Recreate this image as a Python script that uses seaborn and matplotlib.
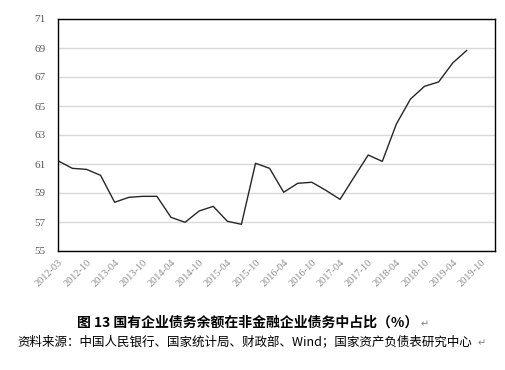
import matplotlib
matplotlib.use("Agg")
import matplotlib.pyplot as plt
import seaborn as sns
import pandas as pd

# quarterly share of SOE debt in non-financial corporate debt (%)
share = [61.21, 60.70, 60.63, 60.22, 58.36, 58.70, 58.77, 58.77,
         57.32, 56.98, 57.76, 58.08, 57.05, 56.84, 61.05, 60.70,
         59.05, 59.67, 59.74, 59.18, 58.56, 60.10, 61.62, 61.18,
         63.76, 65.48, 66.36, 66.66, 67.97, 68.84]
tick_labels = ["2012-03", "2012-10", "2013-04", "2013-10", "2014-04", "2014-10",
               "2015-04", "2015-10", "2016-04", "2016-10", "2017-04", "2017-10",
               "2018-04", "2018-10", "2019-04", "2019-10"]
y_ticks = [55, 57, 59, 61, 63, 65, 67, 69, 71]

df = pd.DataFrame({"idx": range(len(share)), "share": share})

sns.set_theme(style="white")
plt.rcParams["font.family"] = ["Liberation Serif", "DejaVu Sans"]

fig = plt.figure(figsize=(5.05, 3.70), dpi=100)
ax = fig.add_axes([58.3 / 505, 1 - 251 / 370, (495 - 58.3) / 505, (251 - 19) / 370])

sns.lineplot(data=df, x="idx", y="share", ax=ax, color="#262626", linewidth=1.0)

ax.set_xlim(0, 31)
ax.set_ylim(55, 71)
ax.set_yticks(y_ticks)
ax.set_yticklabels([str(v) for v in y_ticks], fontsize=8, color="#595959")
ax.set_xticks(range(0, 31, 2))
ax.set_xticklabels(tick_labels, rotation=45, ha="right", rotation_mode="anchor",
                   fontsize=7.5, color="#8c8c8c")
ax.tick_params(axis="x", direction="in", length=4, width=0.8, color="black", pad=5)
ax.tick_params(axis="y", length=0, pad=9)
ax.set_xlabel("")
ax.set_ylabel("")
ax.grid(axis="y", color="#d9d9d9", linewidth=1.0)
ax.set_axisbelow(True)
for s in ax.spines.values():
    s.set_color("black")
    s.set_linewidth(1.0)

cjk = ["Noto Sans CJK SC", "DejaVu Sans"]
fig.text(248 / 505, 1 - 323 / 370, "图 13 国有企业债务余额在非金融企业债务中占比（%）",
         ha="center", va="center", fontsize=10, fontweight="bold", family=cjk, color="black")
fig.text(421 / 505, 1 - 324 / 370, "↵", ha="left", va="center", fontsize=7,
         family=cjk, color="#7f7f7f")
fig.text(17 / 505, 1 - 342 / 370, "资料来源：中国人民银行、国家统计局、财政部、Wind；国家资产负债表研究中心",
         ha="left", va="center", fontsize=9, family=cjk, color="black")
fig.text(478 / 505, 1 - 343 / 370, "↵", ha="left", va="center", fontsize=7,
         family=cjk, color="#7f7f7f")

fig.savefig("out.png", dpi=100, facecolor="white")
